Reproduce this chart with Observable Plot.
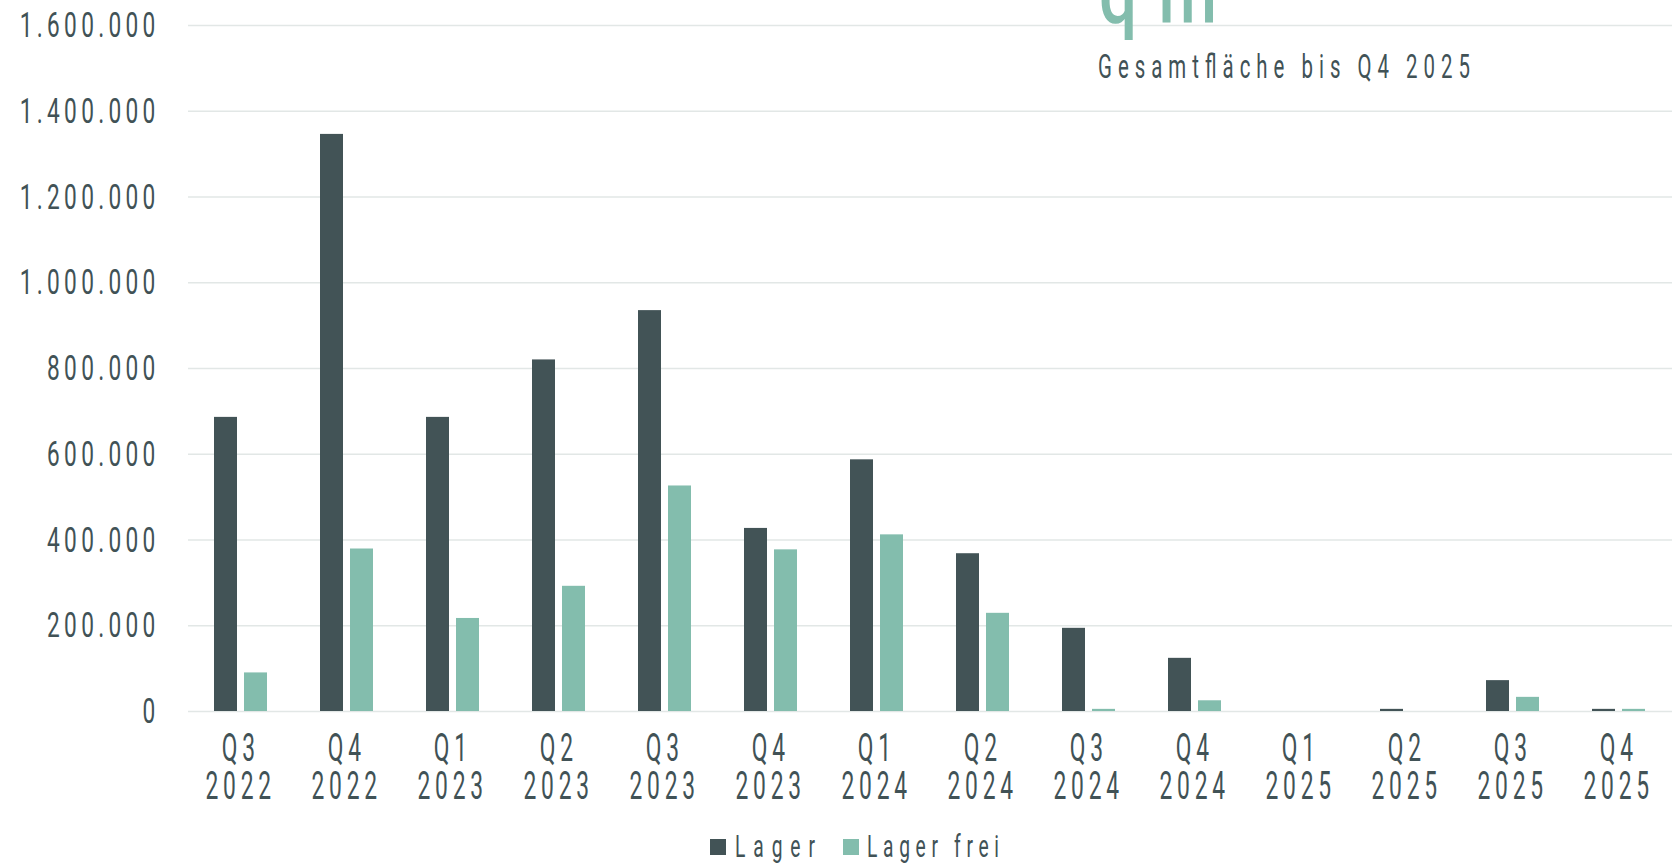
<!DOCTYPE html>
<html>
<head>
<meta charset="utf-8">
<script src="https://cdn.jsdelivr.net/npm/d3@7"></script>
<script src="https://cdn.jsdelivr.net/npm/@observablehq/plot@0.6"></script>
<style>
  html, body { margin: 0; padding: 0; background: #ffffff; overflow: hidden; }
  #wrap { position: relative; width: 1680px; height: 865px; }
  #chart { position: absolute; left: 0; top: 0; }
  #overlay { position: absolute; left: 0; top: 0; pointer-events: none; }
  #chart text, #overlay text { font-family: Roboto, "Open Sans", sans-serif; font-weight: 400; }
  g[aria-label="y-axis tick label"] text { letter-spacing: 6.8px; }
  g[aria-label="fx-axis tick label"] text { letter-spacing: 8px; }
</style>
</head>
<body>
<div id="wrap">
  <div id="chart"></div>
</div>
<script>
// ---- data ----
const quarters = ["Q3 2022","Q4 2022","Q1 2023","Q2 2023","Q3 2023","Q4 2023","Q1 2024","Q2 2024","Q3 2024","Q4 2024","Q1 2025","Q2 2025","Q3 2025","Q4 2025"];
const lager     = [686000, 1346000, 686000, 820000, 935000, 427000, 587000, 368000, 194000, 124000, 0, 5000, 72000, 5000];
const lagerFrei = [ 90000,  379000, 217000, 292000, 526000, 377000, 412000, 229000,   5000,  25000, 0,    0, 33000, 5000];
const series = ["Lager", "Lager frei"];
const seriesColors = ["#425356", "#83bdad"];
const yTicks = [0, 200000, 400000, 600000, 800000, 1000000, 1200000, 1400000, 1600000];
const titleUnit = "qm";
const subtitle = "Gesamtfläche bis Q4 2025";

const TEXT = "#415256";
const SQUEEZE = 0.6;   // the reference typeface is a narrow, tall face

const rows = [];
quarters.forEach((q, i) => {
  rows.push({quarter: q, series: series[0], value: lager[i]});
  rows.push({quarter: q, series: series[1], value: lagerFrei[i]});
});

const de = d3.formatLocale({decimal: ",", thousands: ".", grouping: [3], currency: ["", " €"]});
const fmt = de.format(",d");

const plot = Plot.plot({
  width: 1680,
  height: 820,
  marginTop: 25,
  marginBottom: 109,
  marginLeft: 188,
  marginRight: 8,
  style: {fontFamily: "Roboto, sans-serif", color: TEXT, background: "transparent", overflow: "visible"},
  fx: {domain: quarters, paddingInner: 0, paddingOuter: 0, axis: null, label: null},
  x: {domain: series, paddingInner: 0.22, paddingOuter: 0.853, axis: null},
  y: {domain: [0, 1600000], axis: null, label: null},
  color: {domain: series, range: seriesColors},
  marks: [
    Plot.gridY(yTicks, {stroke: "#e2e7e6", strokeOpacity: 1, strokeWidth: 1.6}),
    Plot.barY(rows, {fx: "quarter", x: "series", y: "value", fill: "series"}),
    Plot.axisY(yTicks, {label: null, tickSize: 0, tickPadding: 29, tickFormat: fmt, fontSize: 36, fill: TEXT}),
    Plot.axisFx({anchor: "bottom", label: null, tickSize: 0, tickPadding: 23, fontSize: 38, lineHeight: 1, fill: TEXT,
                 tickFormat: (d) => d.replace(" ", "\n")})
  ]
});
document.getElementById("chart").appendChild(plot);

// narrow the glyphs horizontally around each label's own anchor
function condense(sel, s, shift = 0) {
  sel.each(function() {
    const el = d3.select(this);
    const tr = el.attr("transform");
    if (tr) el.attr("transform", tr + ` translate(${shift},0) scale(${s},1)`);
    else {
      const x = +el.attr("x") || 0, y = +el.attr("y") || 0;
      el.attr("x", null).attr("y", null).attr("transform", `translate(${x + shift},${y}) scale(${s},1)`);
    }
  });
}
condense(d3.select(plot).selectAll('g[aria-label="y-axis tick label"] text'), 0.63);
condense(d3.select(plot).selectAll('g[aria-label="fx-axis tick label"] text'), SQUEEZE, -0.8);

// title + legend overlay
const ov = d3.select("#wrap").append("svg").attr("id", "overlay").attr("width", 1680).attr("height", 865);
function addText(str, x, y, size, fill, len, squeeze = SQUEEZE, weight = 400) {
  ov.append("text").attr("transform", `translate(${x},${y}) scale(${squeeze},1)`)
    .attr("fill", fill).attr("font-size", size).style("font-weight", weight)
    .attr("textLength", len / squeeze).attr("lengthAdjust", "spacing").text(str);
}
addText(titleUnit, 1099, 23, 84, seriesColors[1], 118, 0.8, 500);
addText(subtitle, 1098, 78, 34, TEXT, 372);

// legend (swatches)
const legendItems = [
  {x: 710, textX: 735, len: 80},
  {x: 843, textX: 867, len: 132}
];
series.forEach((s, i) => {
  const it = legendItems[i];
  ov.append("rect").attr("x", it.x).attr("y", 839).attr("width", 16).attr("height", 16).attr("fill", seriesColors[i]);
  addText(s, it.textX, 857, 32, TEXT, it.len);
});
</script>
</body>
</html>
